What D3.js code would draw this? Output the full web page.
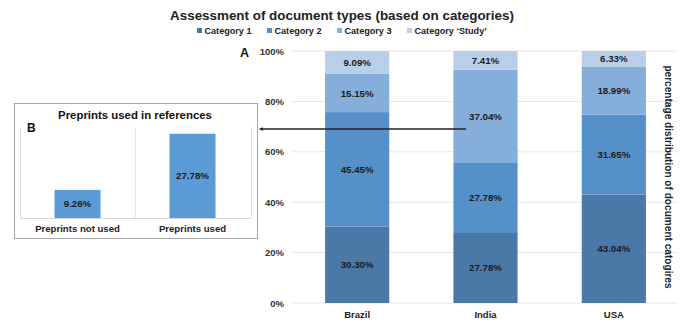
<!DOCTYPE html>
<html><head><meta charset="utf-8">
<script src="https://cdn.jsdelivr.net/npm/d3@7"></script>
<style>body{margin:0;background:#fff;}svg{display:block;font-family:"Liberation Sans",Arial,sans-serif;}</style>
</head><body>
<svg id="c" width="685" height="323"></svg>
<script>
const countries = ["Brazil", "India", "USA"];
const seriesNames = ["Category 1", "Category 2", "Category 3", "Category \u2018Study\u2019"];
const cat1 = [30.30, 27.78, 43.04];
const cat2 = [45.45, 27.78, 31.65];
const cat3 = [15.15, 37.04, 18.99];
const catStudy = [9.09, 7.41, 6.33];
const yTicks = [0, 20, 40, 60, 80, 100];
const colors = ["#4a79a8", "#5690c8", "#85aedb", "#b9cfe9"];

const insetCats = ["Preprints not used", "Preprints used"];
const insetVals = [9.26, 27.78];

const FF = "Liberation Sans, Arial, sans-serif";
const svg = d3.select("#c");
const series = [cat1, cat2, cat3, catStudy];
const rows = countries.map((c, i) => {
  const o = {country: c};
  seriesNames.forEach((s, k) => o[s] = series[k][i]);
  return o;
});
const stack = d3.stack().keys(seriesNames)(rows);

// main chart
const x = d3.scaleBand().domain(countries).range([293, 678]).paddingInner(0.5).paddingOuter(0.25);
const y = d3.scaleLinear().domain([0, 100]).range([303, 51]);

svg.append("g").selectAll("line").data(yTicks).join("line")
  .attr("x1", 292).attr("x2", 678)
  .attr("y1", d => y(d)).attr("y2", d => y(d))
  .attr("stroke", "#e6e6e6").attr("stroke-width", 1);

const yAxis = svg.append("g").attr("transform", "translate(292,0)")
  .call(d3.axisLeft(y).tickValues(yTicks).tickFormat(d => d + "%").tickSize(0).tickPadding(8));
yAxis.select(".domain").remove();
yAxis.selectAll("text").attr("font-size", 9.5).attr("font-weight", "bold").attr("fill", "#333")
  .attr("font-family", FF);

const xAxis = svg.append("g").attr("transform", "translate(0,303)")
  .call(d3.axisBottom(x).tickSize(0).tickPadding(8));
xAxis.select(".domain").remove();
xAxis.selectAll("text").attr("font-size", 9.5).attr("font-weight", "bold").attr("fill", "#222")
  .attr("font-family", FF);

const layers = svg.append("g").selectAll("g").data(stack).join("g")
  .attr("fill", (d, i) => colors[i]);
layers.selectAll("rect").data(d => d).join("rect")
  .attr("x", d => x(d.data.country))
  .attr("width", x.bandwidth())
  .attr("y", d => y(d[1]))
  .attr("height", d => y(d[0]) - y(d[1]));

const labelG = svg.append("g");
stack.forEach((layer, i) => {
  layer.forEach(d => {
    labelG.append("text")
      .attr("x", x(d.data.country) + x.bandwidth() / 2)
      .attr("y", (y(d[0]) + y(d[1])) / 2 + 3.5)
      .attr("text-anchor", "middle")
      .attr("font-size", 9.7).attr("font-weight", "bold").attr("fill", "#1a1a1a")
      .text((d[1] - d[0]).toFixed(2) + "%");
  });
});

// title
svg.append("text").attr("x", 342).attr("y", 20).attr("text-anchor", "middle")
  .attr("font-size", 13.4).attr("font-weight", "bold").attr("fill", "#222")
  .text("Assessment of document types (based on categories)");

// legend
const legendX = [197, 267, 337, 407];
const lg = svg.append("g");
seriesNames.forEach((s, i) => {
  lg.append("rect").attr("x", legendX[i]).attr("y", 28).attr("width", 5).attr("height", 5).attr("fill", colors[i]);
  lg.append("text").attr("x", legendX[i] + 7.5).attr("y", 34).attr("font-size", 9.1).attr("font-weight", "bold").attr("fill", "#222").text(s);
});

// A label
svg.append("text").attr("x", 240).attr("y", 57).attr("font-size", 12.5).attr("font-weight", "bold").attr("fill", "#111").text("A");

// right axis title
svg.append("text").attr("transform", "translate(664.5,177) rotate(90)").attr("text-anchor", "middle")
  .attr("font-size", 10.1).attr("font-weight", "bold").attr("fill", "#222")
  .text("percentage distribution of document catogires");

// arrow
svg.append("line").attr("x1", 466).attr("x2", 261).attr("y1", 129).attr("y2", 129)
  .attr("stroke", "#222").attr("stroke-width", 1.3);
svg.append("path").attr("d", "M258.5,129 L263,127.3 L263,130.7 Z").attr("fill", "#222");

// inset B
const inset = svg.append("g");
inset.append("rect").attr("x", 14.5).attr("y", 103.5).attr("width", 243).attr("height", 135)
  .attr("fill", "#fff").attr("stroke", "#a6a6a6").attr("stroke-width", 1);
inset.append("text").attr("x", 135).attr("y", 118.5).attr("text-anchor", "middle")
  .attr("font-size", 11.4).attr("font-weight", "bold").attr("fill", "#111").text("Preprints used in references");
inset.append("text").attr("x", 27).attr("y", 132).attr("font-size", 12).attr("font-weight", "bold").attr("fill", "#111").text("B");

const xi = d3.scaleBand().domain(insetCats).range([20, 250]).paddingInner(0.6).paddingOuter(0.3);
const yi = d3.scaleLinear().domain([0, 30]).range([218, 127]);
const bandEdges = [20.5, 135.5, 251.5];
inset.append("g").selectAll("line").data(bandEdges).join("line")
  .attr("x1", d => d).attr("x2", d => d).attr("y1", 127).attr("y2", 218)
  .attr("stroke", "#e3e3e3");
inset.append("line").attr("x1", 20).attr("x2", 251).attr("y1", 218.5).attr("y2", 218.5).attr("stroke", "#d9d9d9");

inset.append("g").selectAll("rect").data(insetVals).join("rect")
  .attr("x", (d, i) => xi(insetCats[i]))
  .attr("width", xi.bandwidth())
  .attr("y", d => yi(d))
  .attr("height", d => yi(0) - yi(d))
  .attr("fill", "#5b9bd5");
inset.append("g").selectAll("text").data(insetVals).join("text")
  .attr("x", (d, i) => xi(insetCats[i]) + xi.bandwidth() / 2)
  .attr("y", d => (yi(d) + yi(0)) / 2 + 3.5)
  .attr("text-anchor", "middle").attr("font-size", 9.7).attr("font-weight", "bold").attr("fill", "#1a1a1a")
  .text(d => d.toFixed(2) + "%");
const xiAxis = inset.append("g").attr("transform", "translate(0,218)")
  .call(d3.axisBottom(xi).tickSize(0).tickPadding(7));
xiAxis.select(".domain").remove();
xiAxis.selectAll("text").attr("font-size", 9.6).attr("font-weight", "bold").attr("fill", "#222")
  .attr("font-family", FF);
</script>
</body></html>
